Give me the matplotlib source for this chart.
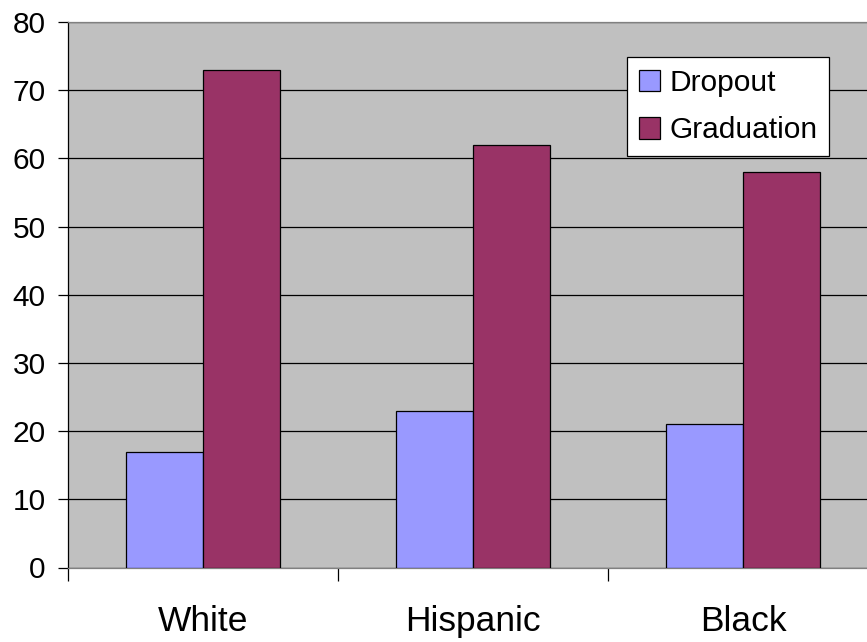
import matplotlib
matplotlib.use("Agg")
import matplotlib.pyplot as plt
import numpy as np

categories = ["White", "Hispanic", "Black"]
dropout = [17, 23, 21]
graduation = [73, 62, 58]
series_names = ["Dropout", "Graduation"]
y_ticks = [0, 10, 20, 30, 40, 50, 60, 70, 80]

plt.rcParams['font.family'] = ['Liberation Sans', 'DejaVu Sans']

W, H = 867, 642
fig = plt.figure(figsize=(W / 100, H / 100), dpi=100)
left, right, top, bottom = 68, 878, 22, 567.5
ax = fig.add_axes([left / W, 1 - bottom / H, (right - left) / W, (bottom - top) / H])
ax.set_facecolor("#C0C0C0")

x = np.arange(len(categories))
bw = 0.287
ax.bar(x - bw / 2, dropout, bw, color="#9999FF", edgecolor="black", linewidth=0.9,
       label=series_names[0], zorder=3)
ax.bar(x + bw / 2, graduation, bw, color="#993366", edgecolor="black", linewidth=0.9,
       label=series_names[1], zorder=3)

ax.set_xlim(-0.5, len(categories) - 0.5)
ax.set_ylim(0, 80)
ax.set_yticks(y_ticks)
ax.yaxis.grid(True, color="black", linewidth=0.9, zorder=1)
ax.tick_params(axis='y', direction='out', length=7, width=0.9, labelsize=21.5, pad=9)

ax.set_xticks(np.arange(len(categories) + 1) - 0.5)
ax.set_xticklabels([])
ax.set_xticks(x, minor=True)
ax.set_xticklabels(categories, minor=True)
ax.tick_params(axis='x', which='major', direction='out', length=9, width=0.9)
ax.tick_params(axis='x', which='minor', length=0, labelsize=25.5, pad=27)

for s in ["top", "right", "bottom"]:
    ax.spines[s].set_color("#808080")
ax.spines["left"].set_color("black")
for s in ax.spines.values():
    s.set_linewidth(0.9)

leg = ax.legend(loc="upper left", bbox_to_anchor=((627 - left) / (right - left), 1 - (57 - top) / (bottom - top)),
                fontsize=21.5, frameon=True, fancybox=False, borderaxespad=0, framealpha=1,
                handlelength=0.72, handleheight=0.72, handletextpad=0.3, labelspacing=0.65,
                borderpad=0.4)
leg.get_frame().set_edgecolor("black")
leg.get_frame().set_linewidth(0.9)
leg.get_frame().set_facecolor("white")

fig.savefig("out.png", dpi=100, facecolor="white")
